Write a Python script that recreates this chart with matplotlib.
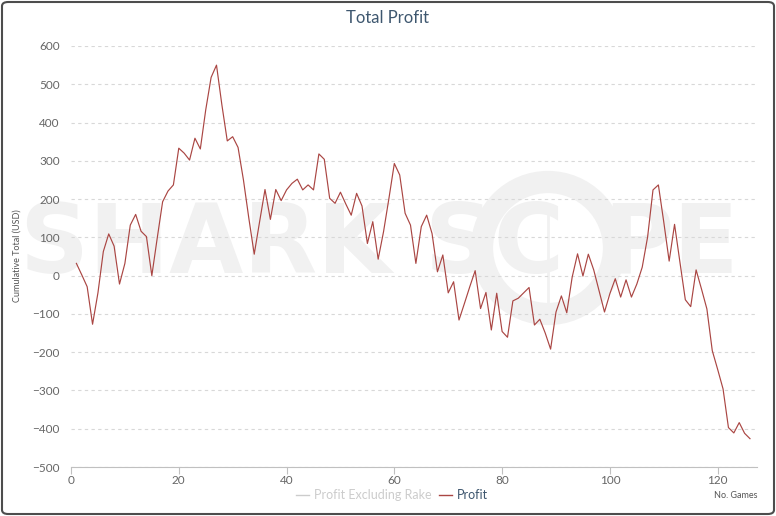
import matplotlib.pyplot as plt
from matplotlib.lines import Line2D
from matplotlib.patches import FancyBboxPatch, Circle

plt.rcParams['font.family'] = ['Lato', 'DejaVu Sans']

# cumulative profit per game (games 1..126)
games = list(range(1, 127))
profit = [
    32, 2, -29, -127, -45, 63, 109, 77, -22, 32,
    132, 160, 116, 102, 0, 98, 193, 221, 237, 333,
    320, 302, 359, 331, 433, 518, 550, 446, 352, 363,
    335, 250, 150, 56, 141, 225, 147, 225, 196, 224,
    241, 252, 224, 237, 224, 318, 304, 202, 189, 218,
    187, 158, 215, 182, 84, 141, 43, 115, 202, 293,
    263, 163, 132, 32, 128, 158, 110, 10, 54, -45,
    -16, -116, -73, -29, 13, -86, -44, -142, -46, -146,
    -161, -66, -59, -45, -31, -129, -114, -150, -192, -95,
    -53, -97, -4, 57, -1, 56, 15, -40, -95, -47,
    -8, -56, -11, -56, -22, 22, 101, 224, 237, 140,
    38, 134, 35, -63, -81, 15, -35, -87, -196, -245,
    -296, -397, -411, -384, -412, -426,
]
yticks = [-500, -400, -300, -200, -100, 0, 100, 200, 300, 400, 500, 600]
xticks = [0, 20, 40, 60, 80, 100, 120]

fig = plt.figure(figsize=(7.76, 5.16), dpi=100)
ax = fig.add_axes([71 / 776, 1 - 467 / 516, 686 / 776, 421 / 516])
ax.patch.set_visible(False)

# outer rounded border
fig.patches.append(FancyBboxPatch((2 / 776, 2 / 516), 772 / 776, 512 / 516,
                                  boxstyle="round,pad=0,rounding_size=0.008",
                                  transform=fig.transFigure, fill=False,
                                  edgecolor='#4d4d4d', linewidth=1.5))

# faint watermark behind the plot
wm = '#f1f1f1'
ax.text(20 / 776, 1 - 246 / 516, 'SHARK SC', fontsize=69, fontweight='bold',
        color=wm, va='center', ha='left', zorder=0, family='DejaVu Sans',
        transform=fig.transFigure, clip_on=False)
ax.text(603 / 776, 1 - 246 / 516, 'PE', fontsize=69, fontweight='bold',
        color=wm, va='center', ha='left', zorder=0, family='DejaVu Sans',
        transform=fig.transFigure, clip_on=False)
ring = Circle((5.48, 5.16 - 2.48), 0.66, transform=fig.dpi_scale_trans,
              fill=False, edgecolor=wm, linewidth=16, zorder=0, clip_on=False)
ax.add_artist(ring)
ax.plot([548, 548], [195, 300], color=wm, linewidth=2, zorder=0,
        transform=None, clip_on=False)

ax.plot(games, profit, color='#AA4643', linewidth=0.85, zorder=3)

ax.set_xlim(0, 127.3)
ax.set_ylim(-500, 600)
ax.set_yticks(yticks)
ax.set_xticks(xticks)
ax.yaxis.grid(True, linestyle=(0, (3, 3)), color='#d8d8d8', linewidth=0.8)
ax.set_axisbelow(True)
for s in ['top', 'right', 'left']:
    ax.spines[s].set_visible(False)
ax.spines['bottom'].set_color('#c0c0c0')
ax.tick_params(axis='y', length=0, labelsize=8.5, labelcolor='#666666', pad=8)
ax.tick_params(axis='x', length=5, color='#c0c0c0', labelsize=8.5,
               labelcolor='#666666', pad=1)

ax.set_ylabel('Cumulative Total (USD)', fontsize=6.5, color='#555555')
ax.yaxis.set_label_coords((22 - 71) / 686, (467 - 256) / 421)

fig.text(388 / 776, 1 - 18 / 516, 'Total Profit', fontsize=12, color='#3E576F',
         ha='center', va='center')
fig.text(757 / 776, 1 - 495 / 516, 'No. Games', fontsize=6.5, color='#555555',
         ha='right', va='center')

handles = [Line2D([], [], color='#cccccc', linewidth=1),
           Line2D([], [], color='#AA4643', linewidth=1)]
leg = fig.legend(handles, ['Profit Excluding Rake', 'Profit'], loc='center',
                 bbox_to_anchor=(392 / 776, 1 - 495 / 516), ncol=2, frameon=False,
                 fontsize=9, handlelength=1.0, handletextpad=0.4, columnspacing=0.6)
leg.get_texts()[0].set_color('#cccccc')
leg.get_texts()[1].set_color('#3E576F')

fig.savefig('out.png', dpi=100)
